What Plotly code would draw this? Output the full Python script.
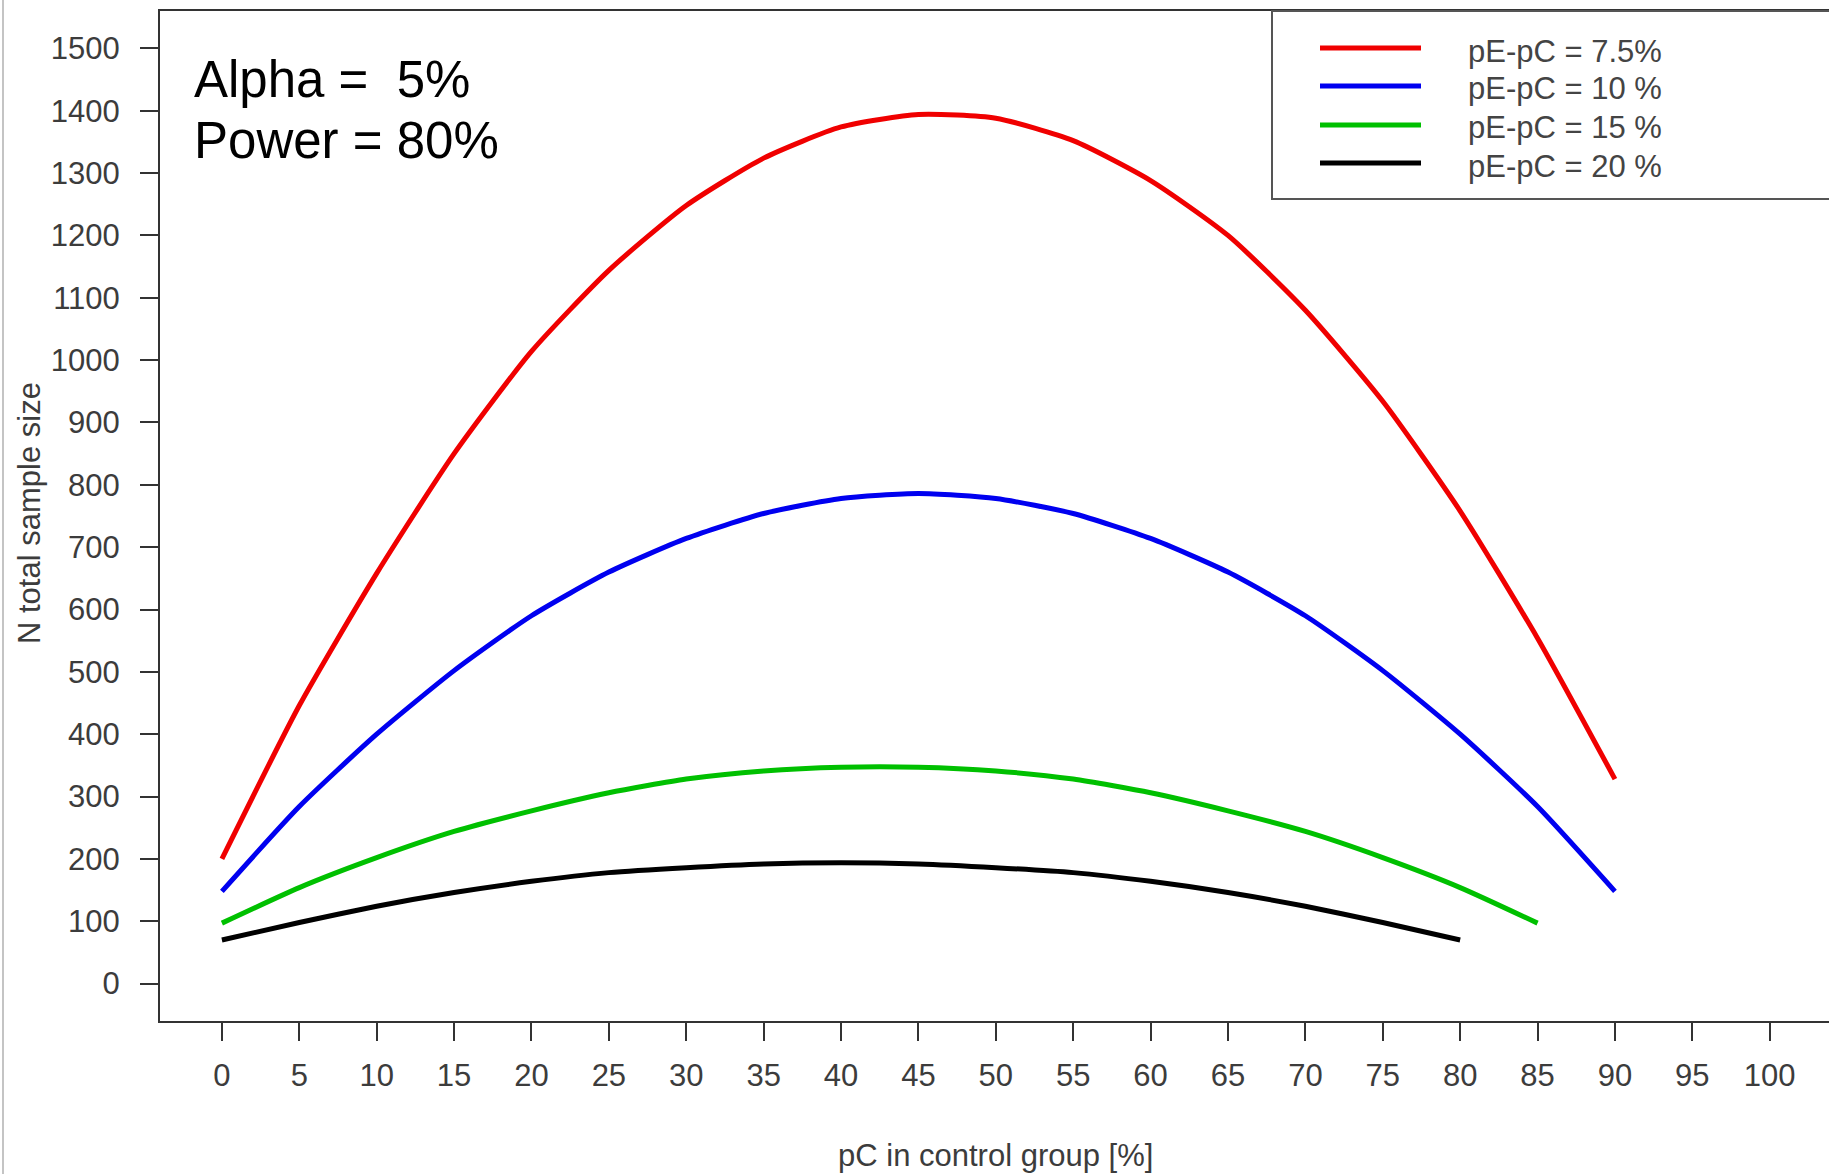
import plotly.graph_objects as go

# Total sample size (both arms) vs. control-group event rate, alpha 5%, power 80%
pc_full = [0, 5, 10, 15, 20, 25, 30, 35, 40, 45, 50, 55, 60, 65, 70, 75, 80, 85, 90]
pc_85 = pc_full[:18]
pc_80 = pc_full[:17]

n_diff_75 = [200, 446, 658, 850, 1014, 1144, 1248, 1324, 1374, 1394, 1388, 1352,
             1288, 1200, 1080, 934, 758, 554, 328]
n_diff_10 = [148, 284, 400, 502, 590, 660, 714, 754, 778, 786, 778, 754,
             714, 660, 590, 502, 400, 284, 148]
n_diff_15 = [97, 154, 202, 244, 277, 306, 328, 341, 347, 347, 341, 328,
             306, 277, 244, 202, 154, 97]
n_diff_20 = [70, 98, 124, 146, 164, 178, 186, 192, 194, 192, 186, 178,
             164, 146, 124, 98, 70]

series_names = ["pE-pC = 7.5%", "pE-pC = 10 %", "pE-pC = 15 %", "pE-pC = 20 %"]
series_colors = ["#f00000", "#0000f0", "#00c000", "#000000"]
series_x = [pc_full, pc_full, pc_85, pc_80]
series_y = [n_diff_75, n_diff_10, n_diff_15, n_diff_20]

x_ticks = list(range(0, 101, 5))
y_ticks = list(range(0, 1501, 100))

W, H = 1829, 1174
L, R, T, B = 160, 1829, 11, 1021
FONT = "Liberation Sans, Arial, sans-serif"
GREY_TXT = "#3c3c3c"
FRAME = "#333333"


def px(xp):
    return (xp - L) / (R - L)


def py(yp):
    return (B - yp) / (B - T)


fig = go.Figure()
for name, color, xs, ys in zip(series_names, series_colors, series_x, series_y):
    fig.add_trace(go.Scatter(x=xs, y=ys, mode="lines", name=name,
                             line=dict(color=color, width=5, shape="spline",
                                       smoothing=0.6),
                             showlegend=False))

axis_common = dict(
    showgrid=False, zeroline=False, showline=True, linecolor=FRAME, linewidth=2,
    ticks="outside", ticklen=18, tickwidth=2, tickcolor=FRAME,
    tickfont=dict(family=FONT, size=31, color=GREY_TXT),
)
fig.update_xaxes(range=[-4, 103.83], tickvals=x_ticks, mirror=True,
                 ticklabelstandoff=8, **axis_common)
fig.update_yaxes(range=[-60, 1560], tickvals=y_ticks, mirror=False,
                 ticklabelstandoff=14, **axis_common)

annotations = [
    dict(x=px(192), y=py(80), text="Alpha =  5%", xanchor="left", yanchor="middle",
         font=dict(family=FONT, size=51, color="#000000")),
    dict(x=px(192), y=py(140), text="Power = 80%", xanchor="left", yanchor="middle",
         font=dict(family=FONT, size=51, color="#000000")),
    dict(x=px(29), y=py(513), text="N total sample size", textangle=-90,
         xanchor="center", yanchor="middle",
         font=dict(family=FONT, size=31, color=GREY_TXT)),
    dict(x=px(995), y=py(1155), text="pC in control group [%]",
         xanchor="center", yanchor="middle",
         font=dict(family=FONT, size=31, color=GREY_TXT)),
]

shapes = [
    # legend frame (open to the right, running past the page edge)
    dict(type="rect", xref="paper", yref="paper", x0=px(1272), x1=px(1845),
         y0=py(199), y1=py(11), line=dict(color="#555555", width=2),
         fillcolor="white", layer="above"),
    # thin border at the left edge of the page
    dict(type="line", xref="paper", yref="paper", x0=px(3), x1=px(3),
         y0=py(0), y1=py(H), line=dict(color="#c4c4c4", width=2)),
]

legend_rows = [48, 86, 125, 163]
for name, color, yrow in zip(series_names, series_colors, legend_rows):
    shapes.append(dict(type="line", xref="paper", yref="paper",
                       x0=px(1320), x1=px(1421), y0=py(yrow), y1=py(yrow),
                       line=dict(color=color, width=5), layer="above"))
    annotations.append(dict(x=px(1466), y=py(yrow + 3), text=name,
                            xanchor="left", yanchor="middle",
                            font=dict(family=FONT, size=31, color="#444444")))

for a in annotations:
    a.update(xref="paper", yref="paper", showarrow=False)

fig.update_layout(
    width=W, height=H,
    margin=dict(l=L, r=W - R, t=T, b=H - B, pad=0),
    paper_bgcolor="white", plot_bgcolor="white",
    annotations=annotations, shapes=shapes,
)

fig.write_html("out.html")
